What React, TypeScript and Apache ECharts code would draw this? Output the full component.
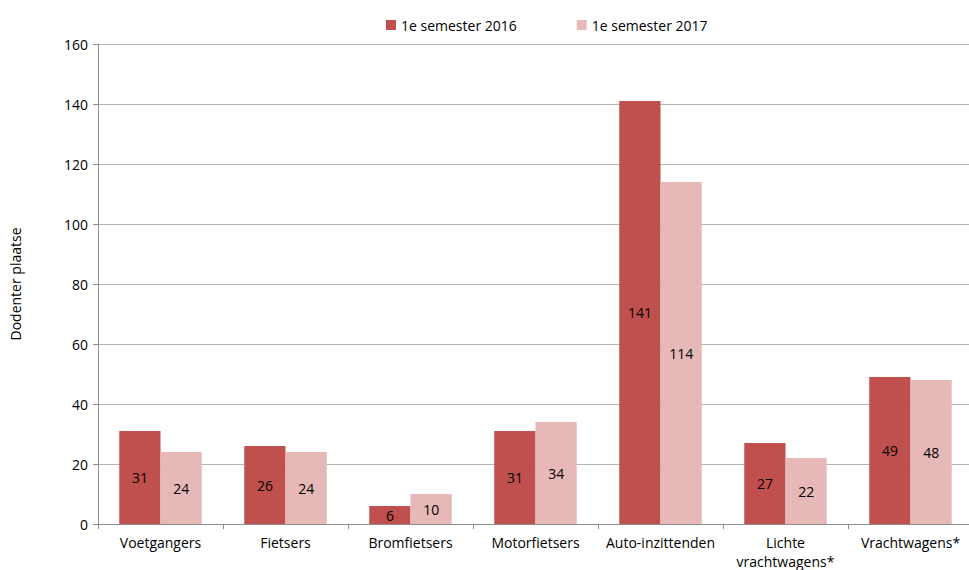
import React, { useEffect, useRef } from "react";
import * as echarts from "echarts";

const categories = ["Voetgangers", "Fietsers", "Bromfietsers", "Motorfietsers", "Auto-inzittenden", "Lichte\nvrachtwagens*", "Vrachtwagens*"];
const series2016 = [31, 26, 6, 31, 141, 27, 49];
const series2017 = [24, 24, 10, 34, 114, 22, 48];
const seriesNames = ["1e semester 2016", "1e semester 2017"];
const yTitle = "Dodenter plaatse";

const FONT = "'Open Sans', 'Noto Sans', sans-serif";

export default function App() {
  const ref = useRef<HTMLDivElement>(null);
  useEffect(() => {
    const chart = echarts.init(ref.current!, null, { renderer: "svg" });
    const label = {
      show: true,
      position: "inside",
      color: "#000",
      fontSize: 14,
      fontFamily: FONT,
    };
    chart.setOption({
      animation: false,
      textStyle: { fontFamily: FONT },
      legend: {
        top: 13,
        left: 381,
        itemWidth: 10,
        itemHeight: 10,
        itemGap: 60,
        icon: "rect",
        textStyle: { fontSize: 14, color: "#000", fontFamily: FONT },
        data: seriesNames,
      },
      grid: { left: 98, top: 44, width: 875, height: 480, outerBoundsMode: "none", containLabel: false },
      xAxis: {
        type: "category",
        data: categories,
        axisLine: { lineStyle: { color: "#8c8c8c" } },
        axisTick: { show: true, length: 5, lineStyle: { color: "#8c8c8c" } },
        axisLabel: { color: "#000", fontSize: 14, margin: 9, lineHeight: 19, fontFamily: FONT, interval: 0 },
      },
      yAxis: {
        type: "value",
        min: 0,
        max: 160,
        interval: 20,
        name: yTitle,
        nameLocation: "middle",
        nameGap: 76,
        nameTextStyle: { fontSize: 14, color: "#000", fontFamily: FONT },
        axisLine: { show: true, lineStyle: { color: "#8c8c8c" } },
        axisTick: { show: true, length: 5, lineStyle: { color: "#8c8c8c" } },
        axisLabel: { color: "#000", fontSize: 14, margin: 10, fontFamily: FONT },
        splitLine: { lineStyle: { color: "#b4b4b4" } },
      },
      series: [
        {
          name: seriesNames[0],
          type: "bar",
          data: series2016,
          itemStyle: { color: "#C0504D" },
          barGap: "0%",
          barCategoryGap: "34%",
          label,
        },
        {
          name: seriesNames[1],
          type: "bar",
          data: series2017,
          itemStyle: { color: "#E6B9B8" },
          barGap: "0%",
          barCategoryGap: "34%",
          label,
        },
      ],
    });
    return () => chart.dispose();
  }, []);
  return <div ref={ref} style={{ width: 969, height: 570, position: "absolute", left: 0, top: 0 }} />;
}
